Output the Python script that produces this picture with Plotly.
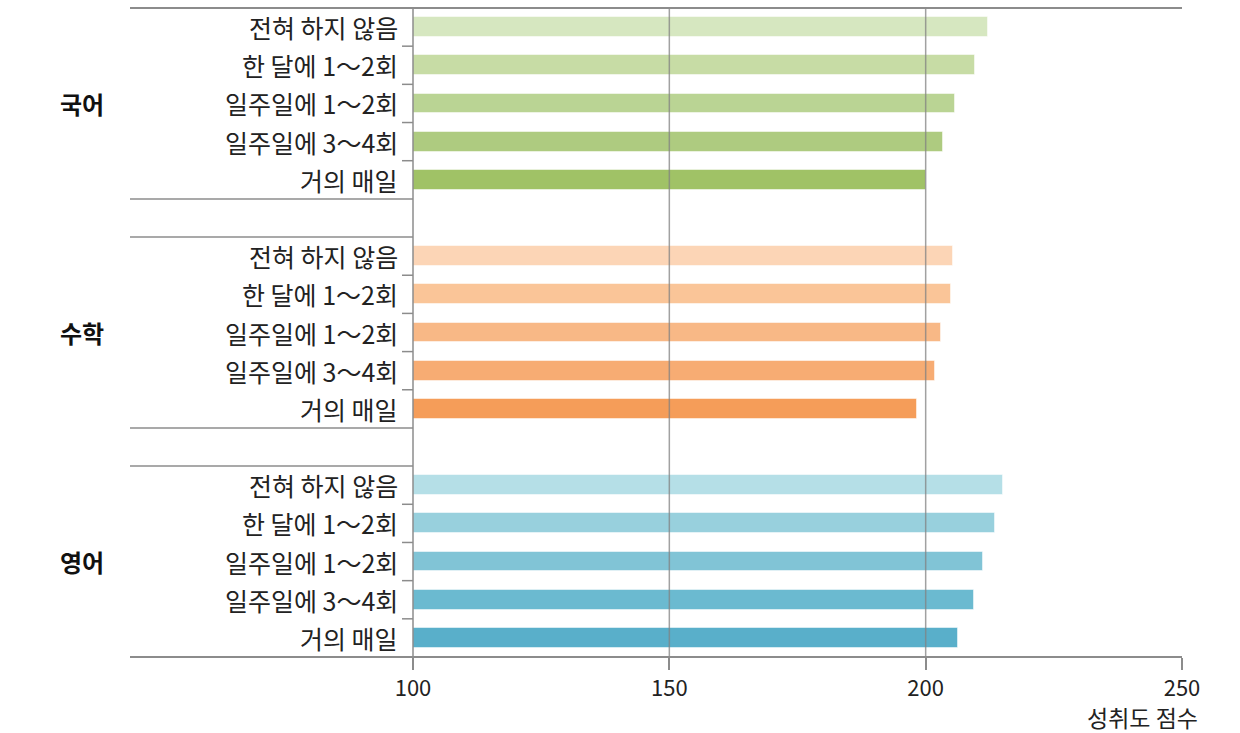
import plotly.graph_objects as go

subjects = ["국어", "수학", "영어"]
frequency = ["전혀 하지 않음", "한 달에 1～2회", "일주일에 1～2회", "일주일에 3～4회", "거의 매일"]
korean_scores = [212.2, 209.6, 205.7, 203.4, 200.0]
math_scores = [205.4, 204.9, 202.9, 201.8, 198.4]
english_scores = [215.1, 213.6, 211.1, 209.5, 206.3]
x_ticks = [100, 150, 200, 250]
x_title = "성취도 점수"

korean_colors = ["#d6e7c0", "#c7dca5", "#bad494", "#aecb80", "#a0c266"]
math_colors = ["#fcd5b6", "#fac598", "#f8b886", "#f7ac73", "#f59d59"]
english_colors = ["#b5dfe7", "#98d0dd", "#81c4d6", "#6bbad0", "#59afca"]

series = [korean_scores, math_scores, english_scores]
colors = [korean_colors, math_colors, english_colors]

FONT = "Noto Sans CJK KR, Noto Sans, sans-serif"
LINE = "#8c8c8c"

fig = go.Figure()
annotations = []
shapes = []
n = len(frequency)
for g, (subj, vals, cols) in enumerate(zip(subjects, series, colors)):
    ys = [g * (n + 1) + i for i in range(n)]
    fig.add_trace(go.Bar(
        x=vals, y=ys, orientation="h", base=0,
        marker=dict(color=cols, line=dict(color="rgba(255,255,255,0.5)", width=1)),
        width=0.52, showlegend=False, hoverinfo="x",
    ))
    for y, lab in zip(ys, frequency):
        annotations.append(dict(x=0, xref="paper", y=y, yref="y", text=lab,
                                xanchor="right", yanchor="middle", xshift=-13, showarrow=False,
                                font=dict(family=FONT, size=25, color="#222")))
    annotations.append(dict(x=-0.43, xref="paper", y=ys[2], yref="y", text="<b>" + subj + "</b>",
                            xanchor="center", yanchor="middle", showarrow=False,
                            font=dict(family=FONT, size=24, color="#111")))
    # short ticks between categories
    for i in range(n - 1):
        yb = ys[i] + 0.5
        shapes.append(dict(type="line", xref="paper", yref="y", x0=-0.0143, x1=0, y0=yb, y1=yb,
                           line=dict(color=LINE, width=1.5)))
    # group separators
    if g < len(subjects) - 1:
        for yb in (ys[-1] + 0.5, ys[-1] + 1.5):
            shapes.append(dict(type="line", xref="paper", yref="y", x0=-0.368, x1=0, y0=yb, y1=yb,
                               line=dict(color=LINE, width=1.5)))

# gridlines drawn over bars
for xv in x_ticks[1:-1]:
    shapes.append(dict(type="line", xref="x", yref="paper", x0=xv, x1=xv, y0=0, y1=1,
                       line=dict(color="rgba(130,130,130,0.75)", width=1.5), layer="above"))
# top and bottom frame lines
shapes.append(dict(type="line", xref="paper", yref="paper", x0=-0.368, x1=1, y0=1, y1=1,
                   line=dict(color=LINE, width=2)))
shapes.append(dict(type="line", xref="paper", yref="paper", x0=-0.368, x1=1, y0=0, y1=0,
                   line=dict(color=LINE, width=2)))
# y axis line
shapes.append(dict(type="line", xref="paper", yref="paper", x0=0, x1=0, y0=0, y1=1,
                   line=dict(color=LINE, width=1.5), layer="above"))

annotations.append(dict(x=1.024, xref="paper", y=-0.0925, yref="paper", text=x_title,
                        xanchor="right", yanchor="middle", showarrow=False,
                        font=dict(family=FONT, size=23, color="#222")))

total = len(subjects) * (n + 1) - 1
fig.update_layout(
    width=1240, height=733,
    margin=dict(l=413, r=58, t=8, b=76),
    paper_bgcolor="white", plot_bgcolor="white",
    bargap=0,
    xaxis=dict(range=[x_ticks[0], x_ticks[-1]], tickvals=x_ticks, showgrid=False, zeroline=False,
               ticks="outside", ticklen=12, tickwidth=1.5, tickcolor=LINE, showline=False,
               tickfont=dict(family=FONT, size=22, color="#222")),
    yaxis=dict(range=[total - 0.5, -0.5], showticklabels=False, showgrid=False, zeroline=False,
               showline=False, ticks=""),
    annotations=annotations, shapes=shapes,
)
fig.write_html("out.html")
